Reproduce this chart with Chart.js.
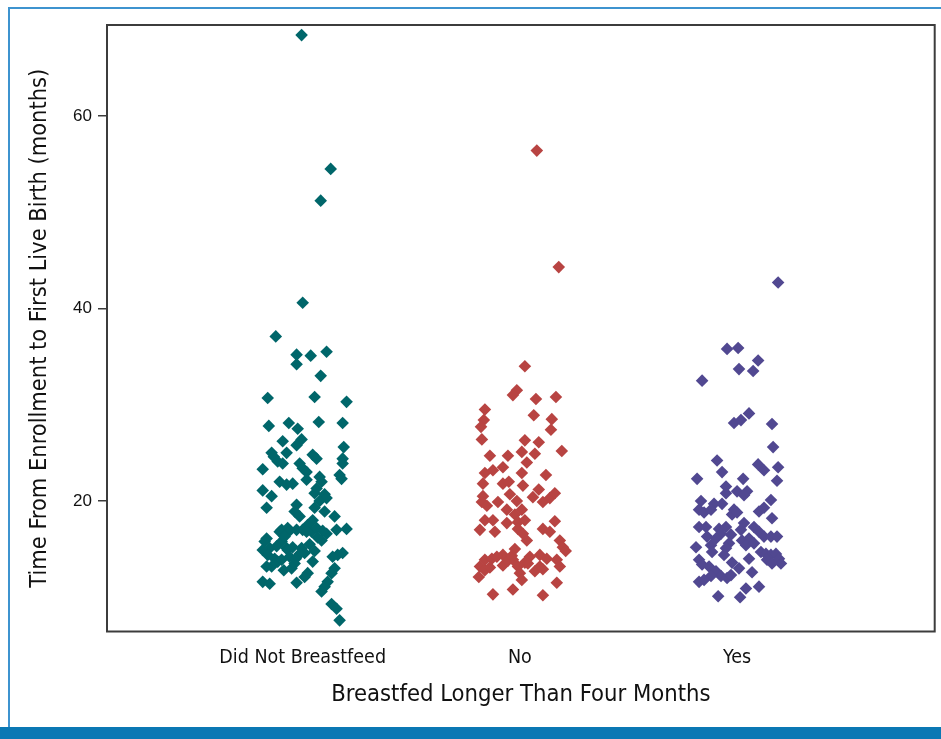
<!DOCTYPE html>
<html>
<head>
<meta charset="utf-8">
<script src="https://cdn.jsdelivr.net/npm/chart.js@4.4.1/dist/chart.umd.min.js"></script>
<style>
  html, body { margin: 0; padding: 0; background: #ffffff; }
  #wrap { position: relative; width: 941px; height: 739px; overflow: hidden; }
  #frameLine { position: absolute; left: 8px; top: 7px; width: 960px; height: 740px;
               border-left: 2px solid #3d93cf; border-top: 2px solid #3d93cf; box-sizing: border-box; }
  #footBar { position: absolute; left: 0; top: 727px; width: 941px; height: 12px; background: #0a78b4; }
  canvas { position: absolute; left: 0; top: 0; }
</style>
</head>
<body>
<div id="wrap">
  <div id="frameLine"></div>
  <div id="footBar"></div>
  <canvas id="chart" width="941" height="739"></canvas>
</div>
<script>
// Groups along the horizontal axis
const categories = ['Did Not Breastfeed', 'No', 'Yes'];
const yTicks = [20, 40, 60];

// Months from enrollment to first live birth, one entry per participant
const didNotValues = [68.4, 54.5, 51.2, 40.6, 37.1, 35.2, 35.1, 35.5, 34.2, 33.0, 30.7, 30.8, 30.3,
  27.8, 28.1, 27.5, 28.2, 28.1, 26.2, 26.4, 25.8, 25.6, 25.0, 24.6, 24.1, 25.0, 23.9, 24.8, 24.4,
  24.4, 23.9, 23.9, 23.4, 23.0, 23.3, 22.7, 22.3, 22.2, 22.5, 22.0, 22.0, 21.7, 21.8, 21.3, 20.8,
  21.1, 20.5, 20.7, 20.3, 20.0, 19.3, 19.3, 19.6, 18.9, 18.9, 18.4, 18.0, 17.5, 17.0, 17.2, 17.0,
  17.0, 16.8, 17.2, 16.6, 17.0, 17.1, 16.1, 16.8, 16.9, 16.8, 16.9, 15.8, 15.1, 15.8, 15.1, 15.2,
  15.1, 14.6, 15.9, 14.9, 15.3, 14.9, 14.2, 14.5, 14.4, 14.2, 14.6, 14.0, 13.7, 13.2, 13.2, 13.0,
  13.5, 13.7, 13.9, 13.0, 11.6, 11.4, 12.5, 12.1, 11.5, 12.5, 11.6, 11.1, 10.6, 9.3, 8.8, 7.6,
  16.3, 15.5, 16.2, 14.4, 14.0, 12.8, 14.8, 18.4];
// Horizontal jitter of each point within its group (category units)
const didNotJitter = [-0.005, 0.129, 0.083, 0, -0.124, -0.028, 0.037, 0.110, -0.028, 0.083, -0.161, 0.055, 0.202,
  -0.156, -0.064, -0.023, 0.074, 0.184, -0.092, -0.005, -0.028, 0.189, -0.143, -0.133, -0.115, -0.074, -0.092, 0.046, 0.064,
  0.184, 0.184, -0.014, 0, 0.018, -0.184, 0.170, 0.179, 0.018, 0.078, 0.087, -0.106, -0.074, -0.046, 0.064, 0.055,
  -0.184, -0.143, 0.101, 0.110, 0.078, 0.055, -0.166, -0.028, -0.037, 0.101, 0.147, 0.046, 0.023, -0.097, -0.069, -0.028,
  0, 0.041, 0.064, 0.110, 0.156, 0.202, -0.166, -0.106, -0.060, 0.018, 0.092, -0.175, -0.152, -0.097, -0.074, -0.046,
  -0.005, 0.009, 0.087, -0.184, -0.120, -0.069, -0.060, -0.014, 0.161, 0.138, 0.184, -0.129, -0.115, -0.143, -0.166, -0.051,
  -0.037, 0.046, -0.097, 0.147, -0.184, -0.152, 0.023, 0.009, -0.028, 0.133, 0.115, 0.101, 0.087, 0.133, 0.156, 0.170,
  -0.083, 0.032, 0.069, -0.161, -0.032, -0.087, 0.055, -0.014];

const noValues = [56.4, 44.3, 34.0, 31.5, 31.0, 30.6, 30.8, 29.5, 28.9, 28.5, 27.4, 28.4, 27.7, 26.4,
  26.3, 26.1, 25.2, 24.7, 24.7, 25.1, 24.9, 24.0, 22.9, 23.2, 23.5, 22.9, 22.7, 21.8, 21.8, 22.0,
  21.6, 21.2, 20.5, 19.9, 19.5, 19.9, 20.7, 20.0, 20.4, 19.9, 20.3, 20.8, 19.1, 18.6, 19.1, 18.0,
  18.0, 17.0, 16.8, 17.7, 17.8, 18.0, 17.1, 16.6, 15.9, 17.9, 17.1, 16.8, 15.9, 15.2, 14.8, 13.9,
  14.0, 14.4, 13.9, 13.2, 12.8, 12.1, 13.3, 13.2, 12.5, 11.8, 14.2, 14.4, 14.0, 13.2, 12.7, 12.9,
  13.9, 13.2, 11.5, 10.3, 10.8, 10.2, 14.2, 13.8, 13.6, 14.3, 13.5, 13.1, 15.0];
const noJitter = [0.078, 0.179, 0.023, -0.014, -0.032, 0.074, 0.166, -0.161, 0.064, 0.147, 0.143, -0.166, -0.179, -0.175,
  0.023, 0.087, 0.193, -0.138, -0.055, 0.009, 0.069, 0.032, -0.161, -0.124, -0.078, 0.009, 0.120, -0.170, -0.078, -0.051,
  0.014, 0.087, -0.170, -0.175, -0.152, -0.101, -0.046, -0.014, 0.060, 0.106, 0.138, 0.161, -0.060, -0.023, 0.009, -0.161,
  -0.124, -0.184, -0.115, -0.060, -0.009, 0.023, -0.009, 0.014, 0.032, 0.161, 0.106, 0.138, 0.184, 0.198, 0.211, -0.161,
  -0.129, -0.078, -0.032, -0.184, -0.161, -0.189, -0.078, -0.009, 0, 0.009, 0.046, 0.092, 0.124, 0.092, 0.069, 0.106,
  0.170, 0.184, 0.170, -0.124, -0.032, 0.106, -0.106, -0.055, 0.023, -0.037, 0.037, -0.138, -0.023];

const yesValues = [42.7, 35.8, 35.9, 34.6, 33.7, 33.5, 32.5, 28.1, 28.4, 29.1, 28.0, 25.6, 24.2, 23.0,
  23.8, 23.2, 23.5, 22.3, 22.3, 22.1, 21.5, 20.8, 21.0, 21.0, 20.6, 20.0, 19.1, 18.8, 19.7, 19.1,
  19.7, 20.1, 19.3, 18.9, 19.1, 18.6, 18.8, 18.2, 17.3, 17.3, 17.7, 17.1, 17.3, 16.6, 16.1, 16.5,
  15.6, 15.1, 17.3, 16.8, 16.3, 15.9, 16.1, 15.4, 15.6, 16.3, 16.3, 15.2, 15.4, 14.7, 14.7, 14.5,
  14.4, 14.5, 14.0, 13.5, 13.9, 13.5, 13.9, 13.4, 13.6, 13.0, 13.2, 12.7, 12.2, 12.2, 11.6, 11.8,
  12.0, 12.3, 12.6, 10.9, 11.1, 10.1, 10.0, 14.4, 14.0, 17.0, 16.3];
const yesJitter = [0.189, -0.046, 0.005, 0.097, 0.009, 0.074, -0.161, -0.014, 0.018, 0.055, 0.161, 0.166, -0.092, -0.069,
  0.097, 0.124, 0.189, -0.184, 0.028, 0.184, -0.051, -0.051, 0, 0.046, 0.032, -0.166, -0.175, -0.152, -0.106, -0.120,
  -0.069, 0.156, 0.124, 0.101, -0.014, -0.023, 0, 0.161, -0.175, -0.143, 0.032, -0.083, -0.051, -0.074, -0.097, -0.028,
  -0.037, -0.051, 0.078, 0.101, 0.124, 0.023, 0.055, 0.041, 0.078, 0.156, 0.184, -0.189, -0.120, -0.115, 0.110, 0.133,
  0.156, 0.179, 0.193, 0.202, 0.138, 0.161, -0.175, -0.161, -0.023, 0.009, -0.129, -0.097, -0.074, -0.120, -0.175, -0.152,
  -0.046, -0.028, 0.069, 0.041, 0.101, -0.087, 0.014, -0.060, 0.055, 0.018, -0.138];

const groupColors = ['#00666a', '#b84442', '#514891'];

function points(groupIndex, values, jitter) {
  return values.map((v, i) => ({ x: groupIndex + 1 + jitter[i], y: v }));
}

const series = [
  points(0, didNotValues, didNotJitter),
  points(1, noValues, noJitter),
  points(2, yesValues, yesJitter)
];

const condensed = "'Liberation Sans Narrow', 'Arial Narrow', 'DejaVu Sans Condensed', sans-serif";

// Dark frame around the plotting area
const plotFrame = {
  id: 'plotFrame',
  afterDraw(chart) {
    const a = chart.chartArea;
    const ctx = chart.ctx;
    ctx.save();
    ctx.strokeStyle = '#3c3c3c';
    ctx.lineWidth = 2;
    ctx.strokeRect(a.left, a.top, a.right - a.left, a.bottom - a.top);
    ctx.restore();
  }
};

new Chart(document.getElementById('chart'), {
  type: 'scatter',
  data: {
    datasets: series.map((pts, i) => ({
      label: categories[i],
      data: pts,
      pointStyle: 'rectRot',
      pointRadius: 6.3,
      pointHoverRadius: 6.3,
      borderWidth: 0,
      backgroundColor: groupColors[i],
      borderColor: groupColors[i]
    }))
  },
  options: {
    responsive: false,
    devicePixelRatio: 1,
    animation: false,
    layout: { padding: { top: 25, right: 5, left: 0, bottom: 0 } },
    plugins: { legend: { display: false }, tooltip: { enabled: false } },
    scales: {
      x: {
        type: 'linear',
        min: 0.099,
        max: 3.91,
        afterFit(s) { s.height = 107.5; },
        afterBuildTicks(s) { s.ticks = categories.map((c, i) => ({ value: i + 1 })); },
        grid: { display: false, drawTicks: false },
        border: { display: false },
        ticks: {
          padding: 15,
          color: '#111',
          font: { family: condensed, size: 19.5 },
          maxRotation: 0,
          autoSkip: false,
          callback: (v) => categories[v - 1]
        },
        title: {
          display: true,
          text: 'Breastfed Longer Than Four Months',
          color: '#111',
          font: { family: condensed, size: 23.6 },
          padding: { top: 0, bottom: 30 }
        }
      },
      y: {
        min: 6.44,
        max: 69.45,
        afterFit(s) { s.width = 107; },
        afterBuildTicks(s) { s.ticks = yTicks.map(v => ({ value: v })); },
        grid: { display: true, drawOnChartArea: false, drawTicks: true, tickLength: 9, color: '#3c3c3c', lineWidth: 1.5 },
        border: { display: false },
        ticks: {
          padding: 6,
          color: '#111',
          font: { family: "'Liberation Sans', Arial, sans-serif", size: 17 }
        },
        title: {
          display: true,
          text: 'Time From Enrollment to First Live Birth (months)',
          color: '#111',
          font: { family: condensed, size: 23.4 },
          padding: { top: 26, bottom: 0 }
        }
      }
    }
  },
  plugins: [plotFrame]
});
</script>
</body>
</html>
